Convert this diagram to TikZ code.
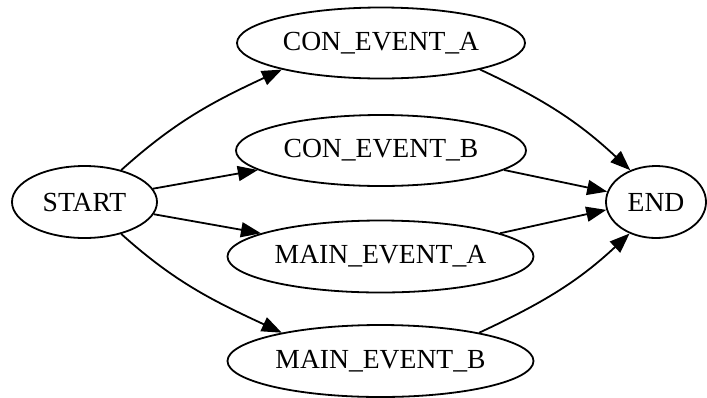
\documentclass[tikz,border=0pt]{standalone}
\usepackage{fontspec}
\setmainfont{Liberation Serif}
\usetikzlibrary{shapes.geometric,arrows.meta}
\begin{document}
\begin{tikzpicture}[x=0.5pt,y=0.5pt,
  ev/.style={draw, ellipse, inner sep=0pt, line width=0.9pt, font=\fontsize{13.8}{16}\selectfont},
  conn/.style={line width=0.9pt, -{Triangle[length=10pt,width=7.5pt]}}]
\useasboundingbox (0,0) rectangle (707,-397);
\node[ev, minimum width=72.5pt, minimum height=36pt] (start) at (84.5,-202) {START};
\node[ev, minimum width=144pt, minimum height=35.5pt] (cea) at (381,-43) {CON\_EVENT\_A};
\node[ev, minimum width=145pt, minimum height=35.5pt] (ceb) at (381,-150.5) {CON\_EVENT\_B};
\node[ev, minimum width=153pt, minimum height=36pt] (mea) at (380.5,-256.5) {MAIN\_EVENT\_A};
\node[ev, minimum width=153pt, minimum height=36pt] (meb) at (380.5,-361) {MAIN\_EVENT\_B};
\node[ev, minimum width=50pt, minimum height=36pt] (endn) at (656,-202) {END};
\draw[conn] (start.41) to[out=42,in=205] (cea.195);
\draw[conn] (start.11) -- (ceb.189);
\draw[conn] (start.-10) -- (mea.169);
\draw[conn] (start.-41) to[out=-42,in=155] (meb.164);
\draw[conn] (cea.-15) to[out=-25,in=137] (endn.129);
\draw[conn] (ceb.-9) -- (endn.168);
\draw[conn] (mea.11) -- (endn.189);
\draw[conn] (meb.16) to[out=25,in=223] (endn.230);
\end{tikzpicture}
\end{document}
